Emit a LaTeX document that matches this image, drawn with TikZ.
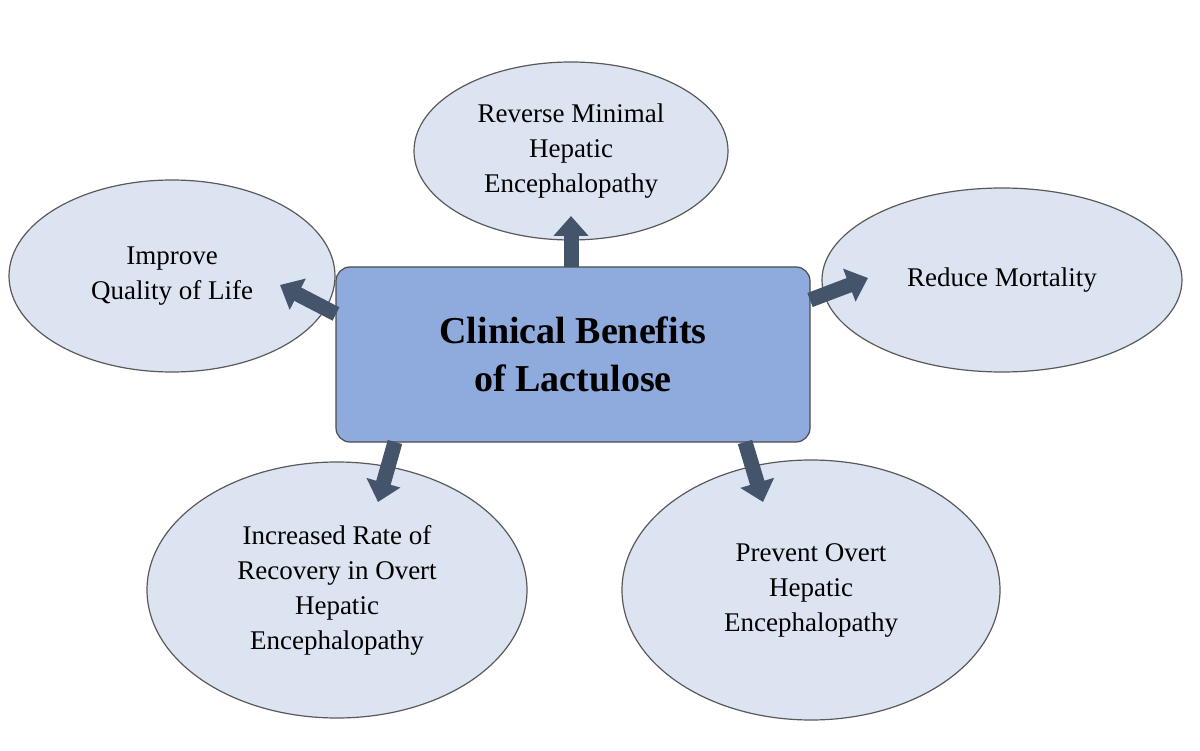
\documentclass[tikz,border=0pt]{standalone}
\usepackage{fontspec}
\setmainfont{Liberation Serif}
\usetikzlibrary{arrows.meta,shapes.geometric}
\definecolor{ellfill}{HTML}{DCE4F2}
\definecolor{boxfill}{HTML}{8FAADC}
\definecolor{arr}{HTML}{44546A}
\tikzset{
 ell/.style={ellipse,draw=black!65,line width=1.2pt,fill=ellfill,inner sep=0pt,align=center,font=\fontsize{27}{35}\selectfont},
 blk/.style={arr,line width=15pt,-{Triangle[length=20pt,width=34pt]}}
}
\begin{document}
\begin{tikzpicture}[x=1pt,y=-1pt]
\useasboundingbox (0,0) rectangle (1200,751);
\node[ell,minimum width=314pt,minimum height=178pt] (top) at (571,151) {Reverse Minimal\\Hepatic\\Encephalopathy};
\node[ell,minimum width=326pt,minimum height=192pt] (left) at (172,276) {Improve\\Quality of Life};
\node[ell,minimum width=360pt,minimum height=184pt] (right) at (1002,280) {Reduce Mortality};
\node[ell,minimum width=380pt,minimum height=256pt] (bl) at (337,590) {Increased Rate of\\Recovery in Overt\\Hepatic\\Encephalopathy};
\node[ell,minimum width=378pt,minimum height=260pt] (br) at (811,590) {Prevent Overt\\Hepatic\\Encephalopathy};
\node[draw=black!70,line width=1.2pt,fill=boxfill,rounded corners=14pt,minimum width=474pt,minimum height=175pt,align=center,font=\fontsize{38}{48}\selectfont\bfseries] (c) at (573,354.5) {Clinical Benefits\\of Lactulose};
\coordinate (t0) at (571,267); \coordinate (t1) at (571,216);
\coordinate (l0) at (336,314); \coordinate (l1) at (280,285);
\coordinate (r0) at (810,300); \coordinate (r1) at (868,278);
\coordinate (a0) at (395,442); \coordinate (a1) at (378,502);
\coordinate (b0) at (745,442); \coordinate (b1) at (763,502);
\draw[blk] (t0) -- (t1);
\draw[blk] (l0) -- (l1);
\draw[blk] (r0) -- (r1);
\draw[blk] (a0) -- (a1);
\draw[blk] (b0) -- (b1);
\end{tikzpicture}
\end{document}
